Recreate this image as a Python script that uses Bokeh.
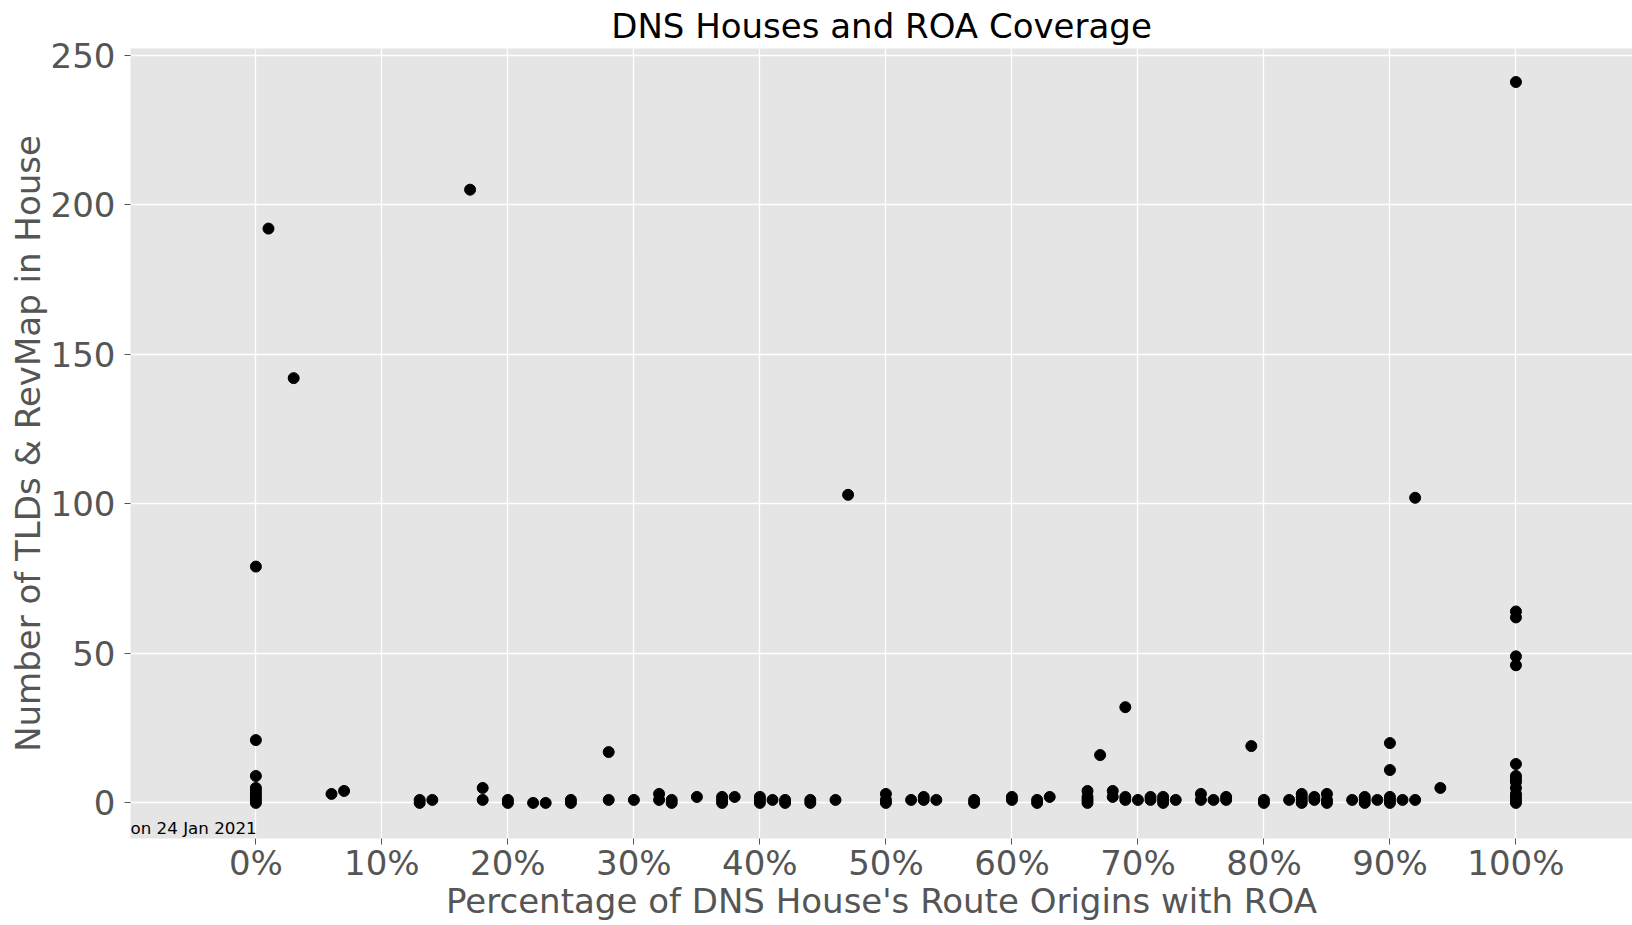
from bokeh.plotting import figure
from bokeh.models import Range1d, Label, FixedTicker, CustomJSTickFormatter, ColumnDataSource
from bokeh.embed import file_html
from bokeh.resources import INLINE

# percentage of route origins with ROA (x) and number of TLDs & RevMap (y)
roa_pct = [
    0, 0, 0, 0, 0, 0, 0, 0, 0,
    1, 3, 6, 7, 13, 13, 14, 17, 18, 18, 20, 20, 22, 23, 25, 25,
    28, 28, 30, 32, 32, 33, 33, 35, 37, 37, 37, 38, 40, 40, 40, 41, 42, 42,
    44, 44, 46, 47, 50, 50, 50, 52, 53, 53, 54, 57, 57, 60, 60, 62, 62, 63,
    66, 66, 66, 66, 67, 68, 68, 69, 69, 69, 70, 71, 71, 72, 72, 72, 73,
    75, 75, 76, 77, 77, 79, 80, 80, 82, 83, 83, 83, 83, 84, 84, 85, 85, 85,
    87, 88, 88, 88, 89, 90, 90, 90, 90, 90, 91, 92, 92, 94,
    100, 100, 100, 100, 100, 100, 100, 100, 100, 100, 100, 100, 100, 100,
]
tld_count = [
    0, 1, 2, 3, 4, 5, 9, 21, 79,
    192, 142, 3, 4, 0, 1, 1, 205, 1, 5, 0, 1, 0, 0, 0, 1,
    1, 17, 1, 1, 3, 0, 1, 2, 0, 1, 2, 2, 0, 1, 2, 1, 0, 1,
    0, 1, 1, 103, 0, 1, 3, 1, 1, 2, 1, 0, 1, 1, 2, 0, 1, 2,
    0, 1, 2, 4, 16, 2, 4, 1, 2, 32, 1, 1, 2, 0, 1, 2, 1,
    1, 3, 1, 1, 2, 19, 0, 1, 1, 0, 1, 2, 3, 1, 2, 0, 1, 3,
    1, 0, 1, 2, 1, 0, 1, 2, 11, 20, 1, 1, 102, 5,
    0, 1, 2, 3, 5, 7, 8, 9, 13, 46, 49, 62, 64, 241,
]
x_ticks = [0, 10, 20, 30, 40, 50, 60, 70, 80, 90, 100]
y_ticks = [0, 50, 100, 150, 200, 250]

FONT = "DejaVu Sans"
GRAY = "#555555"
FS = "34px"

p = figure(
    width=1632, height=925,
    x_range=Range1d(-9.95, 109.25), y_range=Range1d(-11.9, 252.2),
    output_backend="svg", toolbar_location=None,
    title="DNS Houses and ROA Coverage",
    min_border=0,
    min_border_left=130, min_border_right=0, min_border_top=47, min_border_bottom=87,
)
p.background_fill_color = "#E5E5E5"
p.border_fill_color = "white"
p.outline_line_color = None

p.title.align = "center"
p.title.offset = 9
p.title.text_font = FONT
p.title.text_font_size = FS
p.title.text_font_style = "normal"
p.title.text_color = "black"
p.title.standoff = 6

src = ColumnDataSource(data=dict(x=roa_pct, y=tld_count))
p.scatter("x", "y", source=src, size=11, color="black", line_color="black")

p.xaxis.ticker = FixedTicker(ticks=x_ticks)
p.yaxis.ticker = FixedTicker(ticks=y_ticks)
p.xaxis.formatter = CustomJSTickFormatter(code="return tick.toFixed(0) + '%';")

for ax in (p.xaxis, p.yaxis):
    ax.axis_line_color = None
    ax.major_tick_line_color = GRAY
    ax.major_tick_out = 6
    ax.major_tick_in = 0
    ax.minor_tick_line_color = None
    ax.major_label_text_font = FONT
    ax.major_label_text_font_size = FS
    ax.major_label_text_color = GRAY
    ax.major_label_text_line_height = 1.0
    ax.axis_label_text_font = FONT
    ax.axis_label_text_font_size = FS
    ax.axis_label_text_color = GRAY
    ax.axis_label_text_font_style = "normal"
    ax.axis_label_text_line_height = 1.0

p.xaxis.axis_label = "Percentage of DNS House's Route Origins with ROA"
p.yaxis.axis_label = "Number of TLDs & RevMap in House"
p.xaxis.major_label_standoff = -2
p.yaxis.major_label_standoff = 9
p.xaxis.axis_label_standoff = -5
p.yaxis.axis_label_standoff = 0

p.grid.grid_line_color = "white"
p.grid.grid_line_width = 1.3
p.xgrid.ticker = FixedTicker(ticks=x_ticks)
p.ygrid.ticker = FixedTicker(ticks=y_ticks)

p.add_layout(Label(x=-9.95, y=-11.9, text="on 24 Jan 2021", text_font=FONT,
                   text_font_size="16.7px", text_color="black",
                   text_baseline="bottom", y_offset=1))

open("out.html", "w").write(file_html(p, INLINE))
